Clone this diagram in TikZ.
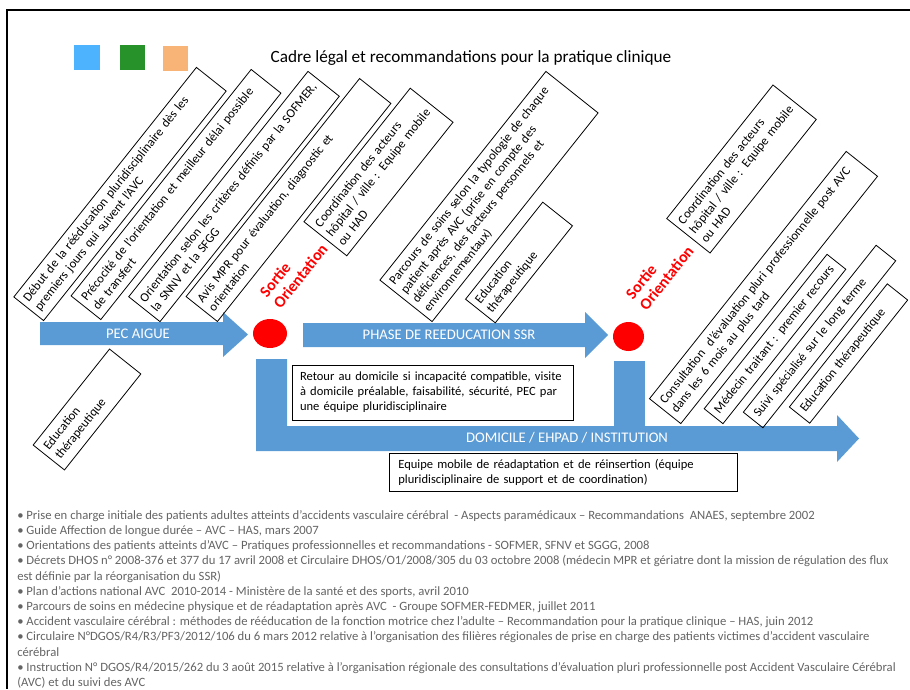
\documentclass[tikz,border=0pt]{standalone}
\usepackage{fontspec}
\setmainfont{Carlito}
\usetikzlibrary{shapes.geometric}
\definecolor{flowblue}{RGB}{91,155,213}
\definecolor{keyblue}{RGB}{77,179,255}
\definecolor{keygreen}{RGB}{39,146,42}
\definecolor{keyorange}{RGB}{248,180,119}
\definecolor{listgray}{RGB}{100,100,100}
\hyphenpenalty=10000

\begin{document}
\begin{tikzpicture}[x=0.75pt,y=-0.75pt,
    rbox/.style={draw,line width=0.6pt,rotate=51.5,align=left,inner xsep=4pt,inner ysep=0pt,
      font=\fontsize{9.5}{11}\selectfont},
    pbox/.style={draw,line width=0.6pt,align=left,inner xsep=6pt,inner ysep=0pt,
      font=\fontsize{9.4}{11.2}\selectfont},
    flowlabel/.style={text=white,font=\fontsize{11}{13}\selectfont},
    sortie/.style={text=red,rotate=51.5,align=left,font=\bfseries\fontsize{12}{13}\selectfont},
    dot/.style={ellipse,fill=red,inner sep=0pt}]
\useasboundingbox (0,0) rectangle (910,689);

\draw[line width=1.6pt] (910,10) -- (7,10) -- (7,689);

\fill[keyblue] (74,45) rectangle (100,70);
\fill[keygreen] (120,45) rectangle (145,70);
\fill[keyorange] (163,46) rectangle (188,71);
\node[font=\fontsize{12.9}{15}\selectfont] (title) at (471,58) {Cadre légal et recommandations pour la pratique clinique};

% fleches
\fill[flowblue] (40,322) -- (223,322) -- (223,312) -- (248,334.5) -- (223,357) -- (223,345) -- (40,345) -- cycle;
\fill[flowblue] (303,323) -- (585,323) -- (585,312) -- (608,335) -- (585,358) -- (585,347) -- (303,347) -- cycle;
\fill[flowblue] (256,359) -- (287,359) -- (287,426) -- (837,426) -- (837,415) -- (859,438.5)
   -- (837,462) -- (837,451) -- (256,451) -- cycle;
\fill[flowblue] (614,361) rectangle (645,427);
\node[flowlabel] (pec) at (138,334) {PEC AIGUE};
\node[flowlabel] (ssr) at (449,335) {PHASE DE REEDUCATION SSR};
\node[flowlabel] (dom) at (567,438) {DOMICILE / EHPAD / INSTITUTION};

\node[dot,minimum width=25.5pt,minimum height=21.75pt] (out1) at (270,333.5) {};
\node[dot,minimum width=23.25pt,minimum height=21.75pt] (out2) at (628.5,336.5) {};
\node[sortie] (so1) at (293.5,270.5) {Sortie\\Orientation};
\node[sortie] (so2) at (659.5,272.5) {Sortie\\Orientation};

% cadres inclines
\node[rbox,text width=212pt,minimum height=28.5pt] (b1) at (120,194) {Début de la rééducation pluridisciplinaire dès les\\premiers jours qui suivent l’AVC};
\node[rbox,text width=209pt,minimum height=28.5pt] (b2) at (176,194.5) {Précocité de l’orientation et meilleur délai possible\\de transfert};
\node[rbox,text width=208pt,minimum height=30pt] (b3) at (234,196.5) {Orientation selon les critères définis par la SOFMER,\\la SNNV et la SFGG};
\node[rbox,text width=201pt,minimum height=30pt] (b4) at (288.5,200) {Avis MPR pour évaluation, diagnostic  et\\orientation};
\node[rbox,text width=120pt,minimum height=41pt] (b5) at (378.5,172) {Coordination des acteurs\\hôpital / ville : Equipe mobile\\ou HAD};
\node[rbox,text width=192pt,minimum height=50pt] (b6) at (489,196.5) {Parcours de soins selon la typologie de chaque\\patient après AVC (prise en compte des\\déficiences, des facteurs personnels et\\environnementaux)};
\node[rbox,text width=85pt,minimum height=28.5pt] (b7) at (519,262.5) {Education\\thérapeutique};
\node[rbox,text width=84pt,minimum height=30pt] (b8) at (87,409.5) {Education\\thérapeutique};
\node[rbox,text width=120pt,minimum height=41.5pt] (b9) at (741.5,169) {Coordination des acteurs\\hôpital / ville : Equipe mobile\\ou HAD};
\node[rbox,text width=229pt,minimum height=30pt] (b10) at (763.5,287.5) {Consultation \ d’évaluation pluri professionnelle post AVC\\dans les 6 mois au plus tard};
\node[rbox,text width=140pt,minimum height=18pt] (b11) at (775,339) {Médecin traitant : premier recours};
\node[rbox,text width=152pt,minimum height=18.75pt] (b12) at (819.5,336.5) {Suivi spécialisé sur le long terme};
\node[rbox,text width=110pt,minimum height=19.5pt] (b13) at (848.5,353.5) {Education thérapeutique};

% cadres droits
\node[pbox,text width=198.75pt,minimum height=41.25pt] (home) at (432.5,392.5) {Retour au domicile si incapacité compatible, visite\\à domicile préalable, faisabilité, sécurité, PEC par\\une équipe pluridisciplinaire};
\node[pbox,inner xsep=7pt,text width=247pt,minimum height=28.5pt] (team) at (563,472) {Equipe mobile de réadaptation et de réinsertion (équipe\\pluridisciplinaire de support et de coordination)};

\node[anchor=north west,inner sep=0pt,align=left,text=listgray,font=\fontsize{9.5}{11.4}\selectfont] (refs) at (17,510) {%
• Prise en charge initiale des patients adultes atteints d’accidents vasculaire cérébral \ - Aspects paramédicaux – Recommandations \ ANAES, septembre 2002\\
• Guide Affection de longue durée – AVC – HAS, mars 2007\\
• Orientations des patients atteints d’AVC – Pratiques professionnelles et recommandations - SOFMER, SFNV et SGGG, 2008\\
• Décrets DHOS n° 2008-376 et 377 du 17 avril 2008 et Circulaire DHOS/O1/2008/305 du 03 octobre 2008 (médecin MPR et gériatre dont la mission de régulation des flux\\
est définie par la réorganisation du SSR)\\
• Plan d’actions national AVC \ 2010-2014 - Ministère de la santé et des sports, avril 2010\\
• Parcours de soins en médecine physique et de réadaptation après AVC \ - Groupe SOFMER-FEDMER, juillet 2011\\
• Accident vasculaire cérébral : méthodes de rééducation de la fonction motrice chez l’adulte – Recommandation pour la pratique clinique – HAS, juin 2012\\
• Circulaire N°DGOS/R4/R3/PF3/2012/106 du 6 mars 2012 relative à l’organisation des filières régionales de prise en charge des patients victimes d’accident vasculaire\\
cérébral\\
• Instruction N° DGOS/R4/2015/262 du 3 août 2015 relative à l’organisation régionale des consultations d’évaluation pluri professionnelle post Accident Vasculaire Cérébral\\
(AVC) et du suivi des AVC};
\end{tikzpicture}
\end{document}
